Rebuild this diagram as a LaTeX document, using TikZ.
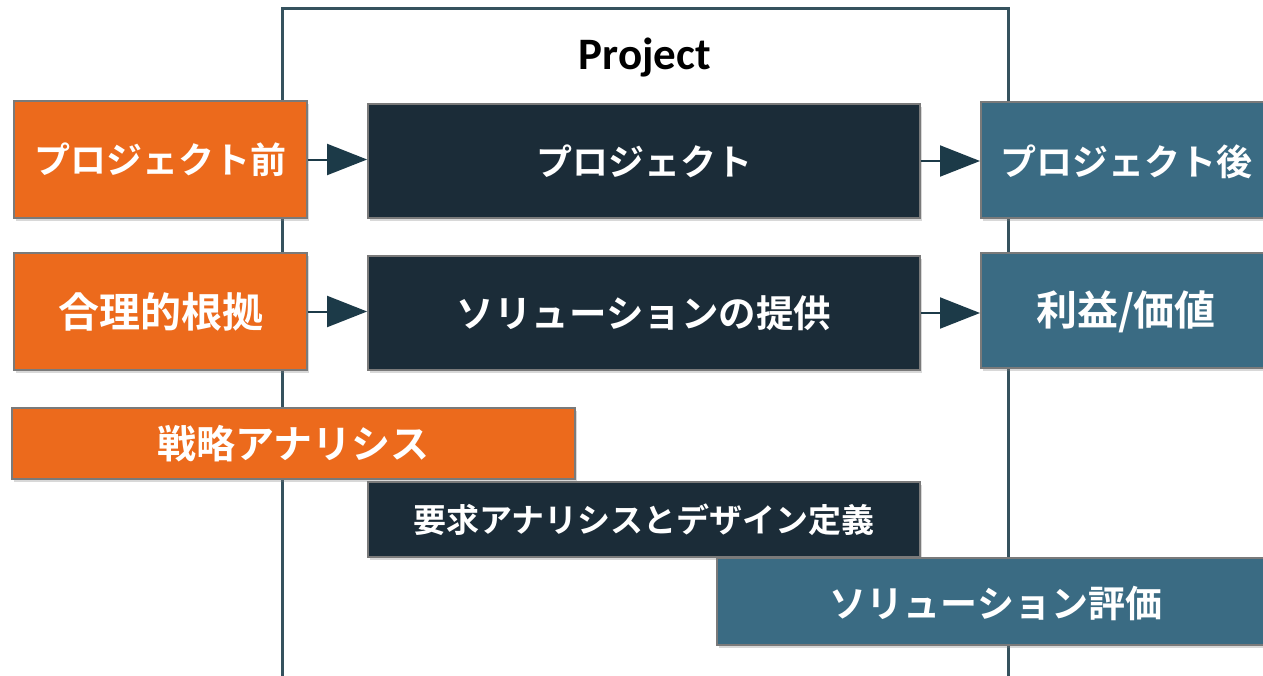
\documentclass[tikz,border=0pt]{standalone}
\usepackage{fontspec}
\newfontfamily\jp{Noto Sans CJK JP}[UprightFont={* Bold}]
\newfontfamily\lat{Carlito}[UprightFont={* Bold}]
\usetikzlibrary{arrows.meta,shadows}
\definecolor{orng}{HTML}{EC6A1C}
\definecolor{dark}{HTML}{1B2C38}
\definecolor{teal}{HTML}{3A6B83}
\definecolor{frame}{HTML}{35525E}
\definecolor{bord}{HTML}{7A7A7A}
\definecolor{arrc}{HTML}{1C3A48}
\begin{document}
\begin{tikzpicture}[x=1pt,y=-1pt,
  box/.style={draw=bord, line width=1.8pt, text=white, inner sep=0pt,
    font=\jp\fontsize{36}{40}\selectfont,
    drop shadow={shadow xshift=2pt, shadow yshift=-3pt, opacity=0.3}},
  org/.style={box, fill=orng},
  drk/.style={box, fill=dark},
  tel/.style={box, fill=teal},
  lbl/.style={text=white, font=\jp\fontsize{36}{40}\selectfont},
  big/.style={font=\jp\fontsize{41}{45}\selectfont},
  arr/.style={draw=arrc, line width=2pt, -{Triangle[length=40pt,width=31pt]}, arrc}
]
\clip (0,0) rectangle (1263,675);
\fill[white] (0,0) rectangle (1263,675);
% project frame
\draw[frame, line width=3pt] (282,700) -- (282,8) -- (1008,8) -- (1008,700);
\node[font=\lat\fontsize{45}{49}\selectfont, text=black] (title) at (645,58) {Project};
% row 1
\node[org, minimum width=293pt, minimum height=117pt] (pre) at (160.5,159.5) {プロジェクト前};
\node[drk, minimum width=552pt, minimum height=114pt] (proj) at (644,161) {プロジェクト};
\node[tel, minimum width=300pt, minimum height=116pt, anchor=west] (post) at (980,160) {};
\node[lbl] (postt) at (1126,162) {プロジェクト後};
% row 2
\node[org, big, minimum width=293pt, minimum height=117pt] (rat) at (160.5,311.5) {合理的根拠};
\node[drk, minimum width=552pt, minimum height=114pt, font=\jp\fontsize{37.5}{41}\selectfont] (sol) at (644,313) {ソリューションの提供};
\node[tel, minimum width=300pt, minimum height=115pt, anchor=west] (ben) at (980,310.5) {};
\node[lbl, big] (bent) at (1126,312) {利益/価値};
% arrows
\draw[arr] (pre.east) -- (pre.east -| proj.west);
\draw[arr] (proj.east) -- (proj.east -| post.west);
\draw[arr] (rat.east) -- (rat.east -| sol.west);
\draw[arr] (sol.east) -- (sol.east -| ben.west);
% bottom bars
\node[org, minimum width=563pt, minimum height=71pt, font=\jp\fontsize{39}{43}\selectfont] (strat) at (293.5,443.5) {戦略アナリシス};
\node[drk, minimum width=552pt, minimum height=75pt, font=\jp\fontsize{33}{37}\selectfont] (req) at (644,519.5) {要求アナリシスとデザイン定義};
\node[tel, minimum width=560pt, minimum height=87pt, anchor=west] (eval) at (716,601.5) {};
\node[lbl, font=\jp\fontsize{37}{41}\selectfont] (evalt) at (996,603) {ソリューション評価};
\end{tikzpicture}
\end{document}
